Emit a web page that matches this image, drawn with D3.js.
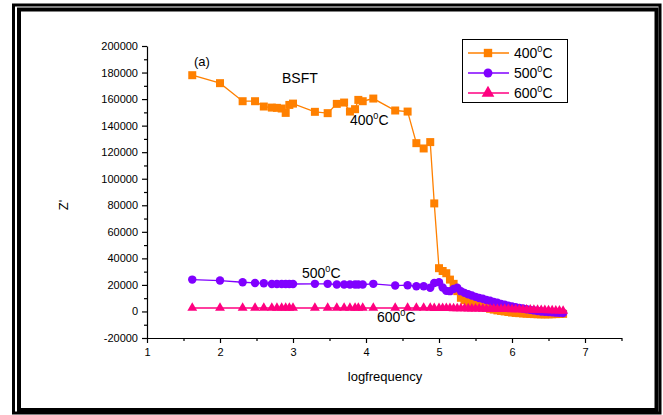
<!DOCTYPE html>
<html>
<head>
<meta charset="utf-8">
<script src="https://cdn.jsdelivr.net/npm/d3@7"></script>
<style>
  body { margin: 0; background: #fff; }
  svg text { font-family: Arial, "Liberation Sans", sans-serif; fill: #000; }
</style>
</head>
<body>
<div id="chart"></div>
<script>
var logFreq = [1.62, 2.0, 2.31, 2.48, 2.60, 2.71, 2.78, 2.845, 2.90, 2.95, 3.0, 3.30, 3.475,
    3.60, 3.70, 3.78, 3.85, 3.895, 3.955, 4.10, 4.40, 4.57, 4.69, 4.79, 4.88, 4.935,
    5.00, 5.05, 5.10, 5.15, 5.20, 5.25, 5.30, 5.35, 5.40, 5.45, 5.50, 5.55, 5.60, 5.65,
    5.70, 5.75, 5.80, 5.85, 5.90, 5.95, 6.00, 6.05, 6.10, 6.15, 6.20, 6.25, 6.30, 6.35,
    6.40, 6.45, 6.50, 6.55, 6.60, 6.65, 6.70];

var z400 = [178000, 172000, 158400, 158400, 154400, 153600, 153400, 152900, 149600, 155600,
    156600, 150400, 149400, 156400, 157400, 150600, 152400, 159400, 158400, 160400, 151400,
    150600, 126800, 122800, 127600, 81400,
    32600, 30500, 28800, 24000, 20800, 15300, 10300, 8500, 7000, 6000, 5000, 4200, 3500, 2700,
    2000, 1400, 800, 400, 0, -400, -800, -1100, -1300, -1500, -1700, -1850, -2000, -2100,
    -2200, -2200, -2200, -2100, -2000, -1900, -1800];

var z500 = [24000, 23300, 22000, 21500, 21300, 20700, 20700, 20700, 20700, 20700, 20700,
    20800, 20800, 20300, 20300, 20300, 20300, 20300, 20300, 20800, 19500, 19800, 19000, 19000,
    17800, 21500,
    22000, 18000, 15500, 15300, 17000, 17800, 15300, 14000, 13000, 12000, 11000, 10200, 9500, 8700,
    8000, 7200, 6500, 5700, 5000, 4400, 3800, 3200, 2700, 2200, 1700, 1200, 800, 400,
    0, -300, -500, -700, -900, -1000, -1100];

var z600 = [2600, 2600, 2600, 2600, 2600, 2600, 2600, 2600, 2600, 2600, 2600, 2600, 2600,
    2600, 2600, 2600, 2600, 2600, 2600, 2600, 2600, 2600, 2600, 2600, 2600, 2550,
    2500, 2450, 2400, 2400, 2350, 2300, 2300, 2250, 2200, 2150, 2100, 2050, 2000, 1950,
    1900, 1850, 1800, 1750, 1700, 1650, 1600, 1500, 1450, 1400, 1300, 1250, 1150, 1100,
    1000, 900, 850, 750, 650, 550, 450];

var seriesNames = ['400', '500', '600'];
var seriesColors = ['#ff8000', '#8000ff', '#ff0080'];
var seriesShapes = [d3.symbolSquare, d3.symbolCircle, d3.symbolTriangle];
var seriesSizes = [64, 56, 42];

var xTicks = [1, 2, 3, 4, 5, 6, 7];
var yTicks = [-20000, 0, 20000, 40000, 60000, 80000, 100000, 120000, 140000, 160000, 180000, 200000];

var svg = d3.select('#chart')
    .append('svg')
    .attr('width', 663)
    .attr('height', 415);

// double frame
svg.append('rect')
    .attr('x', 13.5).attr('y', 5).attr('width', 646.5).attr('height', 408)
    .style('fill', 'none').style('stroke', '#000').style('stroke-width', 3);
svg.append('rect')
    .attr('x', 19).attr('y', 9.5).attr('width', 637.5).attr('height', 400.5)
    .style('fill', 'none').style('stroke', '#000').style('stroke-width', 4);

var x = d3.scaleLinear().domain([1, 7.5]).range([147, 621.5]);
var y = d3.scaleLinear().domain([-20000, 200000]).range([338, 46]);
var plain = d => String(d);

// axes
var xAxis = svg.append('g')
    .attr('transform', 'translate(0,338)')
    .call(d3.axisBottom(x).tickValues(xTicks).tickFormat(plain).tickSize(5).tickSizeOuter(0));
svg.append('g')
    .attr('transform', 'translate(0,338)')
    .call(d3.axisBottom(x).tickValues(xTicks.map(d => d + 0.5)).tickFormat('').tickSize(3).tickSizeOuter(0))
    .select('.domain').remove();

var yAxis = svg.append('g')
    .attr('transform', 'translate(147,0)')
    .call(d3.axisLeft(y).tickValues(yTicks).tickFormat(plain).tickSize(5).tickSizeOuter(0));
svg.append('g')
    .attr('transform', 'translate(147,0)')
    .call(d3.axisLeft(y).tickValues(yTicks.slice(0, -1).map(d => d + 10000)).tickFormat('').tickSize(3).tickSizeOuter(0))
    .select('.domain').remove();

svg.selectAll('.domain, .tick line').style('stroke', '#000').style('stroke-width', 1.2);
xAxis.selectAll('text').style('font-size', '11px').attr('dy', '0.9em');
yAxis.selectAll('text').style('font-size', '11px').attr('x', -9);

svg.append('text')
    .attr('x', 385).attr('y', 381)
    .style('text-anchor', 'middle').style('font-size', '13px')
    .text('logfrequency');
svg.append('text')
    .attr('transform', 'translate(68,205) rotate(-90)')
    .style('text-anchor', 'middle').style('font-size', '13px')
    .text("Z'");

// series
var allSeries = [z400, z500, z600];
var line = d3.line()
    .x(d => x(d[0]))
    .y(d => y(d[1]));

allSeries.forEach(function(vals, i) {
    var pts = logFreq.map((f, j) => [f, vals[j]]);
    svg.append('path')
        .datum(pts)
        .attr('d', line)
        .style('fill', 'none')
        .style('stroke', seriesColors[i])
        .style('stroke-width', 1.3);
    svg.append('g')
        .selectAll('path')
        .data(pts)
        .enter()
        .append('path')
        .attr('d', d3.symbol().type(seriesShapes[i]).size(seriesSizes[i]))
        .attr('transform', d => 'translate(' + x(d[0]) + ',' + y(d[1]) + ')')
        .style('fill', seriesColors[i]);
});

// labels with superscript degree
function degLabel(g, px, py, num, size) {
    var t = g.append('text').attr('x', px).attr('y', py).style('font-size', size + 'px');
    t.append('tspan').text(num);
    t.append('tspan').attr('dy', -size * 0.4).style('font-size', (size * 0.65) + 'px').text('0');
    t.append('tspan').attr('dy', size * 0.4).text('C');
    return t;
}

svg.append('text').attr('x', 194).attr('y', 66).style('font-size', '13px').text('(a)');
svg.append('text').attr('x', 282).attr('y', 83).style('font-size', '14px').text('BSFT');
degLabel(svg, 350, 125, '400', 14);
degLabel(svg, 302, 278, '500', 14);
degLabel(svg, 377, 322, '600', 14);

// legend
var legend = svg.append('g');
legend.append('rect')
    .attr('x', 462.5).attr('y', 39.5).attr('width', 105).attr('height', 63)
    .style('fill', '#fff').style('stroke', '#000').style('stroke-width', 1);
seriesNames.forEach(function(name, i) {
    var cy = 53 + i * 20;
    legend.append('line')
        .attr('x1', 468).attr('x2', 509).attr('y1', cy).attr('y2', cy)
        .style('stroke', seriesColors[i]).style('stroke-width', 1.3);
    legend.append('path')
        .attr('d', d3.symbol().type(seriesShapes[i]).size(i === 2 ? 70 : seriesSizes[i] * 1.1))
        .attr('transform', 'translate(488,' + cy + ')')
        .style('fill', seriesColors[i]);
    degLabel(legend, 514, cy + 5, name, 14);
});
</script>
</body>
</html>
